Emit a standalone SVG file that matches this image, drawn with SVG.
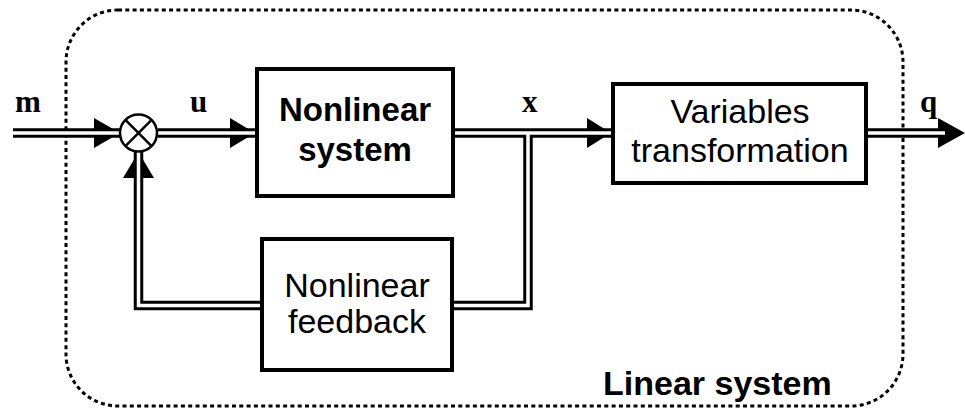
<svg xmlns="http://www.w3.org/2000/svg" width="965" height="409" viewBox="0 0 965 409">
<style>
.box{fill:#fff;stroke:#000;stroke-width:4}
.outer{fill:none;stroke:#000;stroke-width:3;stroke-dasharray:4 3.3}
.lk{fill:none;stroke:#000;stroke-width:9.5}
.lw{fill:none;stroke:#fff;stroke-width:3.5}
.ah{fill:#000}
.lbl{font-family:"Liberation Serif",serif;font-weight:bold;font-size:31px;fill:#000}
.tb{font-family:"Liberation Sans",Arial,sans-serif;font-weight:bold;font-size:33px;fill:#000;text-anchor:middle}
.tr{font-family:"Liberation Sans",Arial,sans-serif;font-size:34px;fill:#000;text-anchor:middle}
</style>
<rect width="965" height="409" fill="#fff"/>
<g id="linear-system">
<rect class="outer" x="66" y="10" width="837" height="396" rx="52" ry="52"/>
<text x="603" y="395" style="font-family:'Liberation Sans',Arial,sans-serif;font-weight:bold;font-size:34px">Linear system</text>
</g>
<g id="connectors">
<path class="lk" d="M13 133H120"/>
<path class="lk" d="M158 133H255"/>
<path class="lk" d="M455 133H611"/>
<path class="lk" d="M528 133V305.5H454"/>
<path class="lk" d="M260 305.5H138.5V152"/>
<path class="lk" d="M868 133H940"/>
<polygon class="ah" points="94,118 120,133 94,148"/>
<polygon class="ah" points="230,118 255,133 230,148"/>
<polygon class="ah" points="587,118 611,133 587,148"/>
<polygon class="ah" points="938,118 965,133 938,148"/>
<polygon class="ah" points="123,178 138.5,152 154,178"/>
<path class="lw" d="M13 133H120"/>
<path class="lw" d="M158 133H255"/>
<path class="lw" d="M455 133H611"/>
<path class="lw" d="M528 133V305.5H454"/>
<path class="lw" d="M260 305.5H138.5V152"/>
<path class="lw" d="M868 133H945"/>
</g>
<g id="sum">
<circle cx="138.5" cy="133" r="18.5" fill="#fff" stroke="#000" stroke-width="2.5"/>
<path d="M125.4 119.9L151.6 146.1M151.6 119.9L125.4 146.1" stroke="#000" stroke-width="2.5"/>
</g>
<g id="nonlinear-system">
<rect class="box" x="257" y="69" width="196" height="127"/>
<text class="tb" x="355" y="121">Nonlinear</text>
<text class="tb" x="355" y="161">system</text>
</g>
<g id="variables-transformation">
<rect class="box" x="613" y="84" width="253" height="99"/>
<text class="tr" x="740" y="123">Variables</text>
<text class="tr" x="740" y="162">transformation</text>
</g>
<g id="nonlinear-feedback">
<rect class="box" x="262" y="239" width="190" height="131"/>
<text class="tr" x="357" y="297">Nonlinear</text>
<text class="tr" x="357" y="333">feedback</text>
</g>
<g id="labels">
<text class="lbl" x="15" y="112">m</text>
<text class="lbl" x="190" y="112">u</text>
<text class="lbl" x="522" y="112">x</text>
<text class="lbl" x="920" y="112">q</text>
</g>
</svg>
